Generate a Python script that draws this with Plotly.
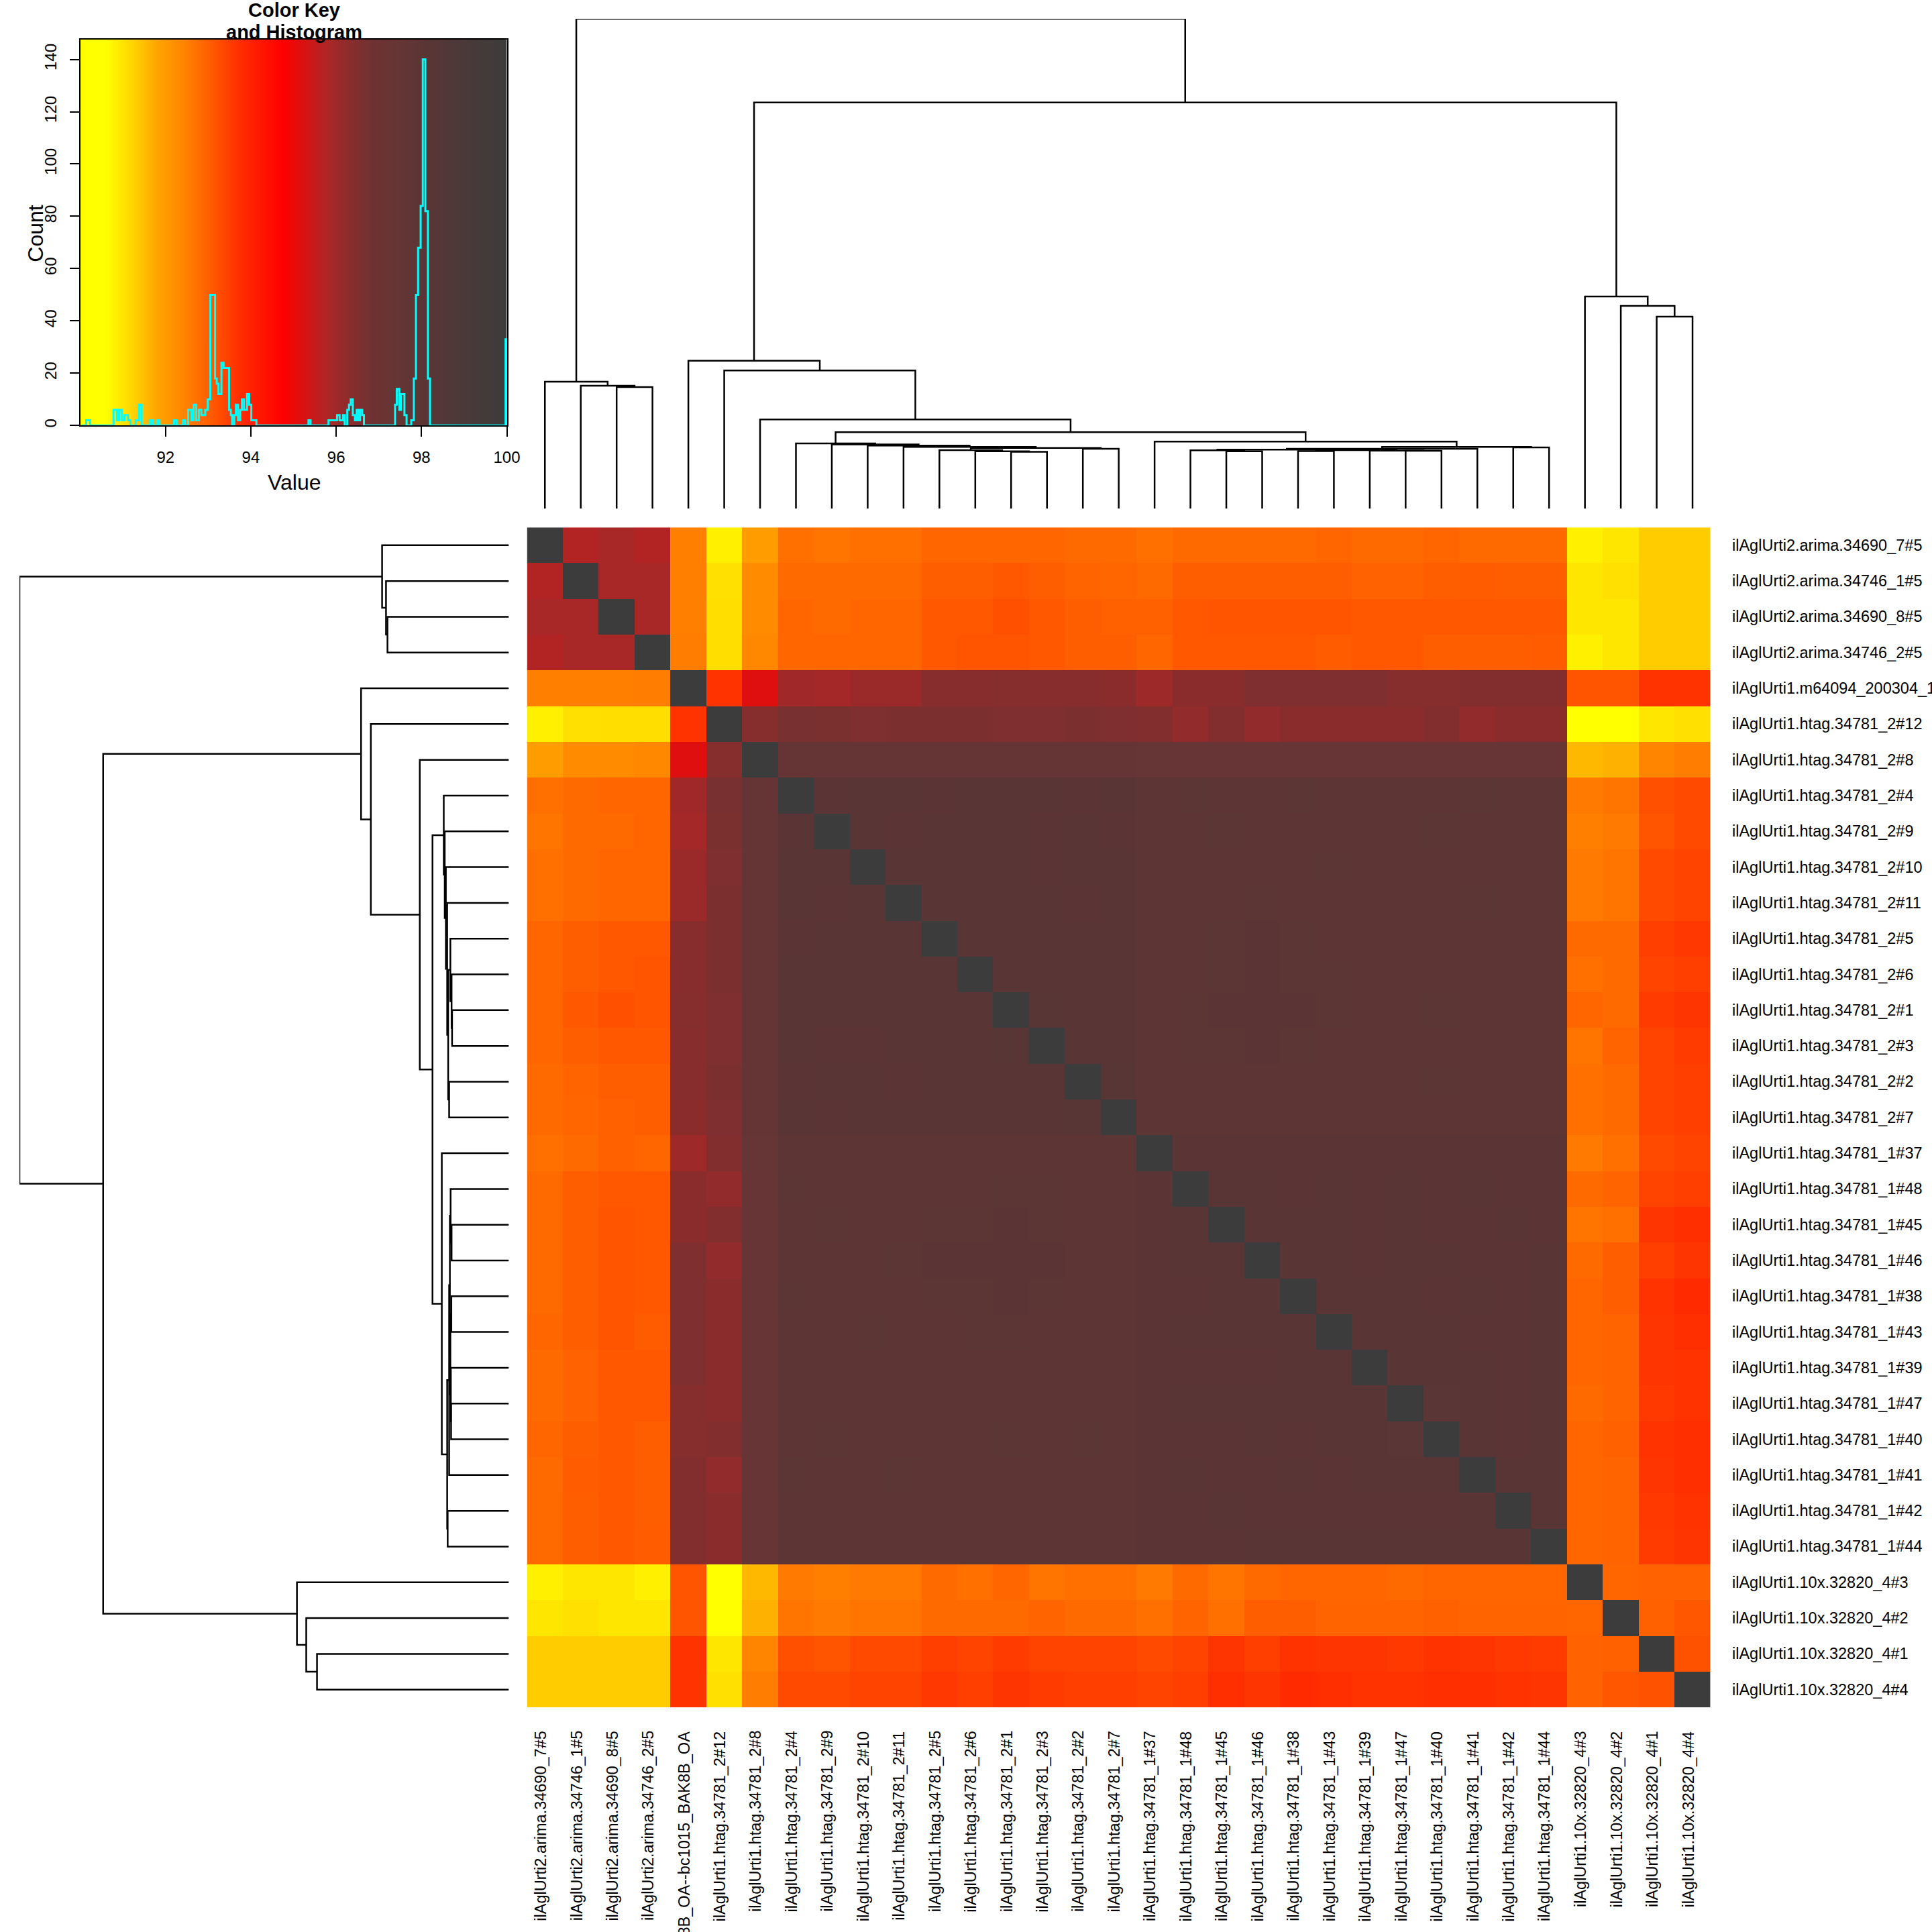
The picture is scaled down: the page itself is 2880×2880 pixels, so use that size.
import numpy as np
import plotly.graph_objects as go

W = 2880          # reference pixel frame used for all positions
FIG_W = 2902      # rendered figure width (compensates the horizontal squeeze of the capture)
FIG_H = 2880
FONT = "Liberation Sans, Arial, sans-serif"

labels = [
    "ilAglUrti2.arima.34690_7#5", "ilAglUrti2.arima.34746_1#5", "ilAglUrti2.arima.34690_8#5",
    "ilAglUrti2.arima.34746_2#5",
    "ilAglUrti1.m64094_200304_143837.ccs.bc1015_BAK8B_OA--bc1015_BAK8B_OA",
    "ilAglUrti1.htag.34781_2#12", "ilAglUrti1.htag.34781_2#8", "ilAglUrti1.htag.34781_2#4",
    "ilAglUrti1.htag.34781_2#9", "ilAglUrti1.htag.34781_2#10", "ilAglUrti1.htag.34781_2#11",
    "ilAglUrti1.htag.34781_2#5", "ilAglUrti1.htag.34781_2#6", "ilAglUrti1.htag.34781_2#1",
    "ilAglUrti1.htag.34781_2#3", "ilAglUrti1.htag.34781_2#2", "ilAglUrti1.htag.34781_2#7",
    "ilAglUrti1.htag.34781_1#37", "ilAglUrti1.htag.34781_1#48", "ilAglUrti1.htag.34781_1#45",
    "ilAglUrti1.htag.34781_1#46", "ilAglUrti1.htag.34781_1#38", "ilAglUrti1.htag.34781_1#43",
    "ilAglUrti1.htag.34781_1#39", "ilAglUrti1.htag.34781_1#47", "ilAglUrti1.htag.34781_1#40",
    "ilAglUrti1.htag.34781_1#41", "ilAglUrti1.htag.34781_1#42", "ilAglUrti1.htag.34781_1#44",
    "ilAglUrti1.10x.32820_4#3", "ilAglUrti1.10x.32820_4#2", "ilAglUrti1.10x.32820_4#1",
    "ilAglUrti1.10x.32820_4#4",
]

# upper triangle of the (symmetric) identity matrix, row i holds columns i+1..32
upper = [
    [95.75, 95.89, 95.75, 92.5, 90.83, 91.97,
     92.74, 92.67, 92.74, 92.74, 92.89, 92.89, 92.89, 92.89, 92.83, 92.83,
     92.74, 92.83, 92.83, 92.83, 92.83, 92.89, 92.83, 92.83, 92.89, 92.83, 92.83, 92.83,
     90.83, 90.98, 91.33, 91.33],
    [95.89, 95.89, 92.5, 91.07, 92.27,
     92.83, 92.83, 92.83, 92.83, 93.01, 93.01, 93.1, 93.01, 92.92, 92.89,
     92.83, 93.01, 93.01, 93.01, 93.01, 93.01, 92.95, 92.95, 93.01, 93.05, 93.01, 93.01,
     90.98, 91.07, 91.33, 91.33],
    [95.89, 92.5, 91.1, 92.3,
     92.89, 92.83, 92.89, 92.89, 93.1, 93.1, 93.23, 93.1, 93.01, 92.98,
     92.98, 93.1, 93.15, 93.15, 93.15, 93.15, 93.1, 93.1, 93.1, 93.1, 93.1, 93.1,
     90.98, 90.98, 91.33, 91.33],
    [92.55, 91.1, 92.35,
     92.89, 92.89, 92.89, 92.89, 93.1, 93.15, 93.15, 93.1, 93.01, 93.01,
     92.89, 93.1, 93.1, 93.1, 93.1, 93.05, 93.1, 93.1, 93.01, 93.01, 93.01, 93.05,
     90.83, 90.98, 91.33, 91.33],
    [93.67, 95.15,
     96.0, 95.93, 96.09, 96.09, 96.35, 96.35, 96.4, 96.35, 96.35, 96.3,
     96.05, 96.3, 96.3, 96.52, 96.52, 96.52, 96.52, 96.4, 96.4, 96.44, 96.44, 96.44,
     93.15, 93.15, 93.67, 93.67],
    [96.4,
     96.63, 96.6, 96.52, 96.59, 96.59, 96.59, 96.52, 96.52, 96.59, 96.52,
     96.44, 96.2, 96.44, 96.2, 96.3, 96.3, 96.3, 96.3, 96.44, 96.2, 96.3, 96.3,
     90.4, 90.3, 90.98, 91.07],
    [97.5, 97.5, 97.5, 97.5, 97.5, 97.5, 97.5, 97.5, 97.5, 97.5,
     97.45, 97.4, 97.4, 97.4, 97.4, 97.4, 97.4, 97.4, 97.4, 97.4, 97.4, 97.4,
     91.57, 91.65, 92.4, 92.55],
    [98.05, 98.1, 98.1, 98.08, 98.1, 98.1, 98.12, 98.08, 98.1,
     97.95, 97.98, 97.95, 97.95, 97.98, 97.95, 97.97, 97.95, 97.95, 97.98, 97.95, 97.95,
     92.59, 92.67, 93.23, 93.32],
    [98.1, 98.08, 98.1, 98.1, 98.1, 98.08, 98.1, 98.08,
     97.96, 97.95, 97.98, 97.95, 97.95, 97.95, 97.97, 97.95, 97.98, 97.95, 97.95, 97.97,
     92.5, 92.59, 93.15, 93.32],
    [98.1, 98.12, 98.1, 98.1, 98.08, 98.1, 98.1,
     97.95, 97.97, 97.95, 97.96, 97.95, 97.98, 97.95, 97.95, 97.96, 97.95, 97.97, 97.95,
     92.59, 92.67, 93.32, 93.41],
    [98.1, 98.1, 98.12, 98.1, 98.08, 98.1,
     97.96, 97.95, 97.95, 97.98, 97.95, 97.95, 97.97, 97.95, 97.95, 97.98, 97.95, 97.96,
     92.59, 92.67, 93.32, 93.41],
    [98.12, 98.1, 98.12, 98.1, 98.1,
     97.95, 97.96, 98.02, 98.05, 98.02, 97.97, 97.95, 97.96, 97.95, 97.95, 97.97, 97.95,
     92.83, 92.83, 93.48, 93.6],
    [98.12, 98.12, 98.1, 98.1,
     97.95, 97.97, 98.02, 98.04, 98.02, 97.98, 97.95, 97.95, 97.96, 97.95, 97.95, 97.97,
     92.74, 92.83, 93.41, 93.48],
    [98.15, 98.1, 98.12,
     97.96, 98.0, 98.04, 98.05, 98.03, 98.0, 97.96, 97.95, 98.02, 97.95, 97.96, 97.95,
     92.89, 92.83, 93.54, 93.63],
    [98.1, 98.12,
     97.95, 97.98, 98.02, 98.03, 97.98, 97.96, 97.95, 97.97, 97.95, 97.95, 97.95, 97.96,
     92.67, 92.92, 93.41, 93.54],
    [98.15,
     97.95, 97.96, 97.95, 97.97, 97.95, 97.95, 97.96, 97.95, 97.98, 97.95, 97.96, 97.95,
     92.74, 92.83, 93.41, 93.48],
    [97.95, 97.95, 97.96, 97.95, 97.95, 97.97, 97.95, 97.95, 97.96, 97.95, 97.95, 97.96,
     92.74, 92.83, 93.41, 93.48],
    [98.05, 98.05, 98.06, 98.05, 98.05, 98.06, 98.05, 98.05, 98.06, 98.05, 98.05,
     92.59, 92.74, 93.32, 93.41],
    [98.1, 98.1, 98.08, 98.1, 98.08, 98.1, 98.08, 98.1, 98.08, 98.08,
     92.83, 92.92, 93.41, 93.48],
    [98.12, 98.1, 98.1, 98.08, 98.1, 98.08, 98.08, 98.1, 98.08,
     92.67, 92.74, 93.63, 93.72],
    [98.1, 98.1, 98.08, 98.1, 98.1, 98.08, 98.08, 98.1,
     92.83, 93.01, 93.48, 93.63],
    [98.12, 98.1, 98.1, 98.08, 98.1, 98.08, 98.1,
     92.89, 93.01, 93.67, 93.8],
    [98.1, 98.1, 98.1, 98.08, 98.08, 98.1,
     92.89, 92.92, 93.63, 93.72],
    [98.12, 98.12, 98.1, 98.08, 98.1,
     92.89, 92.92, 93.63, 93.67],
    [98.14, 98.1, 98.08, 98.1,
     92.83, 92.92, 93.57, 93.67],
    [98.1, 98.08, 98.1,
     92.89, 92.98, 93.67, 93.72],
    [98.1, 98.1,
     92.89, 92.92, 93.63, 93.72],
    [98.12,
     92.89, 92.92, 93.57, 93.67],
    [92.89, 92.92, 93.54, 93.63],
    [92.89, 92.95, 92.95],
    [92.98, 93.12],
    [93.2],
    [],
]
diag_value = 100.0

# dendrogram merges (R hclust convention: negative = leaf number, positive = earlier merge)
merges = [
    (-3, -4, 24.8), (-2, 1, 25.1), (-1, 2, 25.9),
    (-32, -33, 39.2), (-31, 4, 41.4), (-30, 5, 43.3),
    (-14, -15, 11.6), (-13, 7, 11.7), (-12, 8, 11.95), (-16, -17, 12.2), (9, 10, 12.4),
    (-11, 11, 12.6), (-10, 12, 12.87), (-9, 13, 13.1), (-8, 14, 13.3),
    (-20, -21, 11.7), (-19, 16, 11.9), (-22, -23, 11.75), (-25, -26, 11.8), (-24, 19, 11.85),
    (18, 20, 11.95), (17, 21, 12.05), (22, -27, 12.2), (-28, -29, 12.5), (23, 24, 12.6),
    (-18, 25, 13.7), (15, 26, 15.6), (-7, 27, 18.2), (-6, 28, 28.2), (-5, 29, 30.2),
    (30, 6, 82.9), (3, 31, 100.0),
]

# colour key stops (value, colour)
key_values = [90.0, 90.6, 91.2, 91.8, 92.5, 93.15, 93.8, 94.75, 95.3, 95.8, 96.3, 96.8, 97.5, 98.0, 98.8, 100.0]
key_colors = ["#FFFF00", "#FFFF00", "#FFD700", "#FFA500", "#FF8000", "#FF5500", "#FF2A00", "#FF0000",
              "#D41414", "#AE2626", "#8B2C2C", "#703232", "#653535", "#5C3535", "#4E3838", "#3C3C3C"]

# histogram outline (left edge of each step, count of the step)
hist_edges = [90.03, 90.14, 90.23, 90.78, 90.86, 90.91, 90.98, 91.04, 91.12, 91.18, 91.30, 91.38, 91.44,
              91.64, 91.70, 91.80, 91.85, 92.20, 92.26, 92.41, 92.46, 92.53, 92.61, 92.66, 92.72, 92.78,
              92.84, 92.93, 92.99, 93.05, 93.16, 93.20, 93.24, 93.31, 93.36, 93.49, 93.53, 93.56, 93.61,
              93.65, 93.70, 93.75, 93.79, 93.84, 93.91, 93.96, 94.01, 94.13, 95.35, 95.40, 95.82, 96.02,
              96.08, 96.16, 96.20, 96.26, 96.30, 96.34, 96.39, 96.44, 96.48, 96.52, 96.56, 96.61, 96.65,
              97.38, 97.42, 97.48, 97.52, 97.60, 97.65, 97.76, 97.82, 97.87, 97.92, 97.98, 98.03, 98.09,
              98.15, 98.20, 99.97, 100.0]
hist_counts = [0, 2, 0, 6, 2, 6, 2, 4, 2, 0, 2, 8, 0, 2, 0, 2, 0, 2, 0, 2, 0, 6, 2, 8, 2, 6, 4, 6, 10,
               50, 18, 16, 12, 24, 22, 6, 4, 0, 4, 8, 2, 6, 10, 6, 12, 8, 2, 0, 2, 0, 2, 4, 2, 4, 0, 6,
               8, 10, 4, 2, 6, 2, 6, 4, 0, 8, 14, 6, 12, 4, 0, 2, 18, 50, 68, 84, 140, 82, 18, 0, 33, 33]

key_ticks = [92, 94, 96, 98, 100]
count_ticks = [0, 20, 40, 60, 80, 100, 120, 140]

# ---------------------------------------------------------------- build
n = len(labels)
M = np.full((n, n), diag_value)
for i, row in enumerate(upper):
    for k, v in enumerate(row):
        j = i + 1 + k
        M[i, j] = v
        M[j, i] = v

vmin, vmax = 90.0, 100.0
colorscale = [[(v - vmin) / (vmax - vmin), c] for v, c in zip(key_values, key_colors)]


def dendro_segments(merges):
    pos = {}
    xs, hs = [], []

    def get(ref):
        if ref < 0:
            return (-ref - 1, 0.0)
        return pos[ref]

    for k, (a, b, h) in enumerate(merges, start=1):
        xa, ha = get(a)
        xb, hb = get(b)
        xs += [xa, xa, xb, xb, None]
        hs += [ha, h, h, hb, None]
        pos[k] = ((xa + xb) / 2.0, h)
    return xs, hs


dx, dh = dendro_segments(merges)


def px(x):
    return x / W


def py(y):
    return 1 - y / W


fig = go.Figure()

# main heatmap
fig.add_trace(go.Heatmap(z=M, x=list(range(n)), y=list(range(n)), colorscale=colorscale,
                         zmin=vmin, zmax=vmax, showscale=False, hoverinfo="skip",
                         xaxis="x", yaxis="y"))

# top dendrogram
fig.add_trace(go.Scatter(x=dx, y=dh, mode="lines", line=dict(color="black", width=2.5),
                         xaxis="x2", yaxis="y2", hoverinfo="skip", showlegend=False))
# left dendrogram
fig.add_trace(go.Scatter(x=dh, y=dx, mode="lines", line=dict(color="black", width=2.5),
                         xaxis="x4", yaxis="y4", hoverinfo="skip", showlegend=False))

# colour key gradient
kx = np.linspace(vmin, vmax, 501)
kc = (kx[:-1] + kx[1:]) / 2
fig.add_trace(go.Heatmap(z=[kc], x=kx, y=[0, 147.6], colorscale=colorscale, zmin=vmin, zmax=vmax,
                         showscale=False, hoverinfo="skip", xaxis="x3", yaxis="y3"))
# histogram
fig.add_trace(go.Scatter(x=hist_edges, y=hist_counts, mode="lines", line=dict(color="#00FFFF", width=3, shape="hv"),
                         xaxis="x3", yaxis="y3", hoverinfo="skip", showlegend=False))

hm_x = [px(785), px(2548)]
hm_y = [py(2548), py(787)]
hidden = dict(showgrid=False, zeroline=False, showticklabels=False, ticks="", showline=False)

annotations = []
for i, lab in enumerate(labels):
    annotations.append(dict(text=lab, x=px(2578), xref="paper", y=i, yref="y", xanchor="left",
                            yanchor="middle", showarrow=False, font=dict(family=FONT, size=23.5, color="black")))
    annotations.append(dict(text=lab, x=i - 0.12, xref="x", y=py(2581), yref="paper", xanchor="center",
                            yanchor="top", textangle=-90, showarrow=False,
                            font=dict(family=FONT, size=23.5, color="black")))

annotations += [
    dict(text="<b>Color Key</b>", x=px(438), y=py(15), xref="paper", yref="paper", xanchor="center",
         yanchor="middle", showarrow=False, font=dict(family=FONT, size=29, color="black")),
    dict(text="<b>and Histogram</b>", x=px(438), y=py(48), xref="paper", yref="paper", xanchor="center",
         yanchor="middle", showarrow=False, font=dict(family=FONT, size=29, color="black")),
    dict(text="Value", x=px(438), y=py(720), xref="paper", yref="paper", xanchor="center",
         yanchor="middle", showarrow=False, font=dict(family=FONT, size=32, color="black")),
    dict(text="Count", x=px(53), y=py(348), xref="paper", yref="paper", xanchor="center",
         yanchor="middle", textangle=-90, showarrow=False, font=dict(family=FONT, size=32, color="black")),
]

fig.update_layout(
    width=FIG_W, height=FIG_H, autosize=False, margin=dict(l=0, r=0, t=0, b=0),
    paper_bgcolor="white", plot_bgcolor="white", showlegend=False,
    xaxis=dict(domain=hm_x, range=[-0.5, n - 0.5], anchor="y", **hidden),
    yaxis=dict(domain=hm_y, range=[n - 0.5, -0.5], anchor="x", **hidden),
    xaxis2=dict(domain=hm_x, range=[-0.5, n - 0.5], anchor="y2", **hidden),
    yaxis2=dict(domain=[py(759), py(28)], range=[0, 100], anchor="x2", **hidden),
    xaxis4=dict(domain=[px(29), px(758)], range=[100, 0], anchor="y4", **hidden),
    yaxis4=dict(domain=hm_y, range=[n - 0.5, -0.5], anchor="x4", **hidden),
    xaxis3=dict(domain=[px(119.5), px(755)], range=[vmin, vmax], anchor="y3", tickvals=key_ticks,
                ticktext=[str(t) for t in key_ticks], ticks="outside", ticklen=15, tickwidth=2,
                tickcolor="black", showline=True, mirror=True, linecolor="black", linewidth=2,
                showgrid=False, zeroline=False, tickfont=dict(family=FONT, size=24, color="black"),
                ticklabelstandoff=10),
    yaxis3=dict(domain=[py(635), py(59)], range=[0, 147.6], anchor="x3", tickvals=count_ticks,
                ticktext=[str(t) for t in count_ticks], ticks="outside", ticklen=14, tickwidth=2,
                tickcolor="black", showline=True, mirror=True, linecolor="black", linewidth=2,
                showgrid=False, zeroline=False, tickangle=-90,
                tickfont=dict(family=FONT, size=24, color="black"), ticklabelstandoff=10),
    annotations=annotations,
)

fig.write_html("out.html",
               config={"displayModeBar": False, "responsive": False, "staticPlot": True},
               post_script="document.documentElement.style.margin='0px';"
                           "document.documentElement.style.overflow='hidden';"
                           "document.body.style.margin='0px';document.body.style.padding='0px';"
                           "document.body.style.overflow='hidden';")
